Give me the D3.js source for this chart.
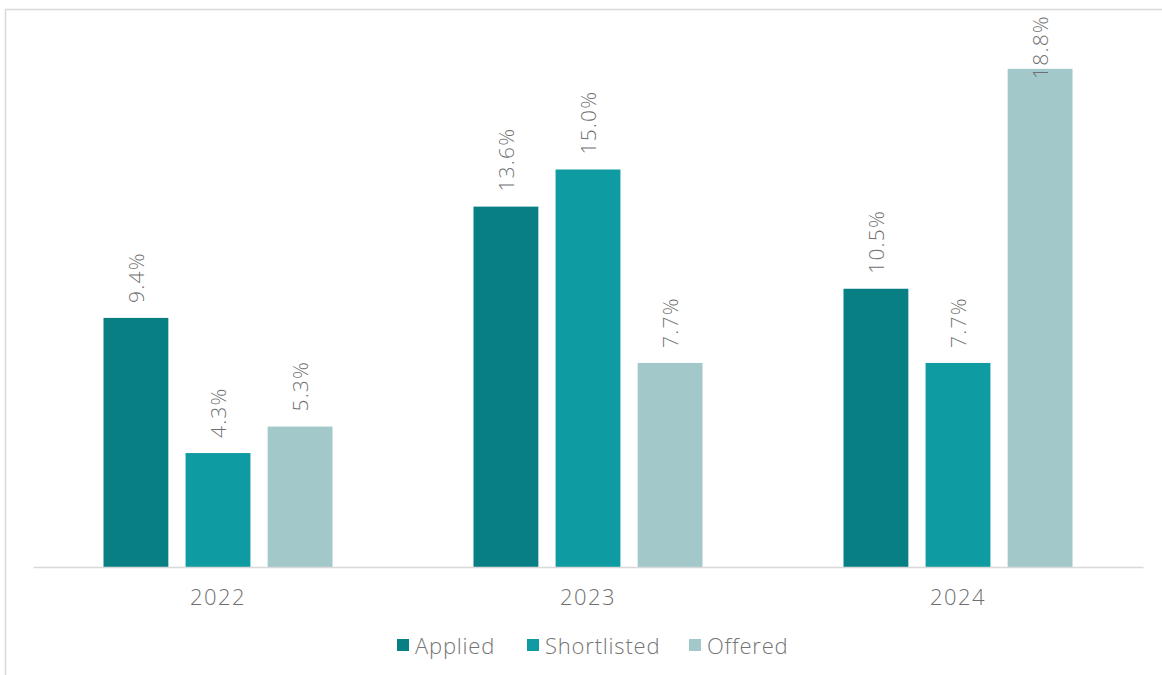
<!DOCTYPE html>
<html>
<head>
<meta charset="utf-8">
<script src="https://cdn.jsdelivr.net/npm/d3@7"></script>
<style>
  html, body { margin: 0; padding: 0; background: #fff; }
  svg { display: block; }
  text { font-family: "Open Sans", "Noto Sans", sans-serif; font-weight: 300; }
</style>
</head>
<body>
<svg id="chart" width="1162" height="675"></svg>
<script>
const categories = ["2022", "2023", "2024"];
const seriesNames = ["Applied", "Shortlisted", "Offered"];
const applied = [9.4, 13.6, 10.5];
const shortlisted = [4.3, 15.0, 7.7];
const offered = [5.3, 7.7, 18.8];
const seriesColors = ["#087f83", "#0e9ca2", "#a2c8ca"];

const seriesValues = [applied, shortlisted, offered];
const svg = d3.select("#chart");

// outer border (open to the right/bottom like the crop)
svg.append("rect").attr("x", 5.5).attr("y", 9.5).attr("width", 1200).attr("height", 700)
  .attr("fill", "none").attr("stroke", "#d9d9d9").attr("stroke-width", 1.5);

const plot = { left: 33, right: 1143, bottom: 567 };
const x0 = d3.scaleBand().domain(categories).range([plot.left, plot.right]).paddingInner(0).paddingOuter(0);
const x1 = d3.scaleBand().domain(seriesNames).range([70.5, 370 - 70.5]).paddingInner(0.21).paddingOuter(0);
const y = d3.scaleLinear().domain([0, 20]).range([plot.bottom, plot.bottom - 26.5 * 20]);

const data = categories.map((c, i) => ({ cat: c, vals: seriesNames.map((s, j) => ({ s, v: seriesValues[j][i], j })) }));

const g = svg.append("g");
const groups = g.selectAll("g.grp").data(data).join("g")
  .attr("transform", d => `translate(${x0(d.cat)},0)`);

groups.selectAll("rect").data(d => d.vals).join("rect")
  .attr("x", d => x1(d.s)).attr("width", x1.bandwidth())
  .attr("y", d => y(d.v)).attr("height", d => y(0) - y(d.v))
  .attr("fill", d => seriesColors[d.j]);

// labels rotated -90
groups.selectAll("text.lbl").data(d => d.vals).join("text")
  .attr("class", "lbl")
  .attr("font-size", 21)
  .attr("letter-spacing", 1.2)
  .attr("fill", "#707070")
  .attr("text-anchor", "start")
  .attr("dominant-baseline", "central")
  .text(d => d.v.toFixed(1) + "%")
  .each(function(d) {
    const len = this.getComputedTextLength();
    let start = y(d.v) - 15;
    const minTop = 15;
    if (start - len < minTop) start = minTop + len;
    const cx = x1(d.s) + x1.bandwidth() / 2;
    d3.select(this).attr("transform", `translate(${cx},${start}) rotate(-90)`);
  });

// x axis
const axis = d3.axisBottom(x0).tickSize(0).tickPadding(22);
const ax = svg.append("g").attr("transform", `translate(0,${plot.bottom})`).call(axis);
ax.select(".domain").attr("stroke", "#d9d9d9").attr("stroke-width", 1.5);
ax.selectAll("text").attr("font-size", 22).attr("letter-spacing", 1.5).attr("fill", "#707070")
  .attr("font-family", '"Open Sans", sans-serif').attr("font-weight", 300);

// legend
const legendX = [397, 527, 689];
const leg = svg.append("g");
seriesNames.forEach((s, j) => {
  leg.append("rect").attr("x", legendX[j]).attr("y", 639).attr("width", 12).attr("height", 12).attr("fill", seriesColors[j]);
  leg.append("text").attr("x", legendX[j] + 18).attr("y", 645).attr("dominant-baseline", "central")
    .attr("font-size", 22).attr("letter-spacing", 0.8).attr("fill", "#757575").text(s);
});
</script>
</body>
</html>
